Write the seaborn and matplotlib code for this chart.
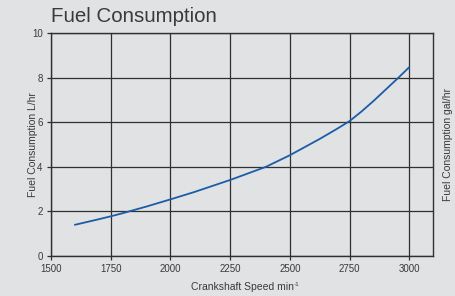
import numpy as np
import pandas as pd
import matplotlib
matplotlib.use("Agg")
import matplotlib.pyplot as plt
import seaborn as sns

# values
speed = [1600, 1700, 1750, 1800, 1900, 2000, 2100, 2250, 2400, 2500,
         2625, 2700, 2750, 2800, 2850, 2950, 3000]
fuel_lhr = [1.40, 1.65, 1.78, 1.92, 2.22, 2.54, 2.87, 3.41, 4.00, 4.52,
            5.25, 5.72, 6.05, 6.48, 6.95, 7.95, 8.47]

x_ticks = [1500, 1750, 2000, 2250, 2500, 2750, 3000]
y_ticks = [0, 2, 4, 6, 8, 10]

bg = "#e1e2e4"
grid_c = "#303030"
text_c = "#3a3a3a"

sns.set_theme(style="white")
plt.rcParams.update({
    "font.family": ["Liberation Sans", "DejaVu Sans"],
    "figure.facecolor": bg,
    "axes.facecolor": bg,
    "axes.edgecolor": grid_c,
    "text.color": text_c,
    "axes.labelcolor": text_c,
    "xtick.color": text_c,
    "ytick.color": text_c,
})

df = pd.DataFrame({"speed": speed, "fuel": fuel_lhr})

fig = plt.figure(figsize=(4.55, 2.96), dpi=100)
ax = fig.add_axes([0.112, 0.135, 0.840, 0.7535])

sns.lineplot(data=df, x="speed", y="fuel", ax=ax, color="#1a5ca8", linewidth=1.3)

ax.set_xlim(1500, 3100)
ax.set_ylim(0, 10)
ax.set_xticks(x_ticks)
ax.set_yticks(y_ticks)
ax.grid(True, color=grid_c, linewidth=0.9)
ax.set_axisbelow(True)
for s in ax.spines.values():
    s.set_color(grid_c)
    s.set_linewidth(1.0)
ax.tick_params(axis="both", direction="out", length=3, width=0.9,
               color=grid_c, labelsize=7, pad=3, left=True, bottom=True)

xl = ax.set_xlabel("Crankshaft Speed min", fontsize=7.5, va="center")
ax.xaxis.set_label_coords(0.5, -0.14)
ax.set_ylabel("Fuel Consumption L/hr", fontsize=7.5, va="center")
ax.yaxis.set_label_coords(-0.048, 0.5)

ax2 = ax.twinx()
ax2.set_ylim(0, 10)
ax2.set_yticks([])
ax2.set_ylabel("Fuel Consumption gal/hr", fontsize=7.5, va="center")
ax2.yaxis.set_label_coords(1.04, 0.5)
for s in ax2.spines.values():
    s.set_visible(False)

fig.text(0.112, 0.925, "Fuel Consumption", fontsize=14.8,
         color=text_c, ha="left", va="baseline")

# small superscript "-1" after the x label
fig.canvas.draw()
bb = xl.get_window_extent()
fig.text((bb.x1 + 0.5) / fig.bbox.width, (bb.y1 - 3.5) / fig.bbox.height, "-1",
         fontsize=4.5, color=text_c, ha="left", va="baseline")

fig.savefig("out.png", dpi=100, facecolor=bg)
